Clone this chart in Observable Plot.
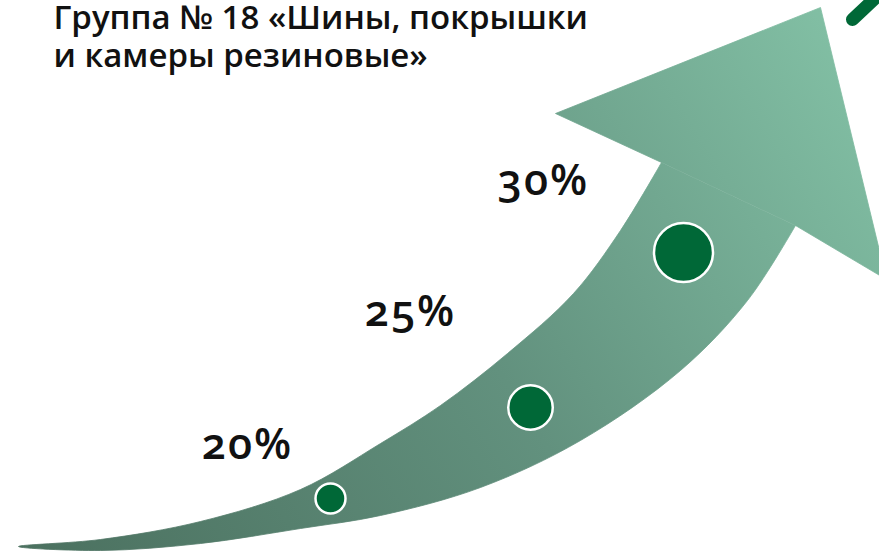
<!DOCTYPE html>
<html><head><meta charset="utf-8">
<script src="https://cdn.jsdelivr.net/npm/d3@7"></script>
<script src="https://cdn.jsdelivr.net/npm/@observablehq/plot@0.6"></script>
<style>
body{margin:0;background:#fff;overflow:hidden}
#chart svg{display:block}
.pct text{font-variant-numeric:oldstyle-nums;font-feature-settings:"onum" 1;letter-spacing:2px}
</style>
</head><body><div id="chart"></div>
<script>
// ---- data ----
const titleLines = ["Группа № 18 «Шины, покрышки", "и камеры резиновые»"];
const values = [20, 25, 30];
const labels = ["20%", "25%", "30%"];

// ---- layout (drawing coordinates of the infographic) ----
const dotX = [330, 530, 683];
const dotY = [498, 407, 252];
const labelX = [247, 410, 543];
const labelY = [445, 312, 181];
const titleX = [53, 53];
const titleY = [28, 66];

const shaftX = [661, 620, 573, 507, 440, 380, 300, 200, 100, 18, 100, 200, 300, 380, 480, 580, 680, 747, 795];
const shaftY = [162, 230, 293, 353, 405, 443, 489, 521, 539, 546, 550, 543, 528, 515, 487, 440, 370, 300, 225];
const headX = [661, 555, 820, 886, 795];
const headY = [162, 113, 7, 279, 225];
const strokeX = [852, 886];
const strokeY = [19, -13];

const shaft = shaftX.map((x, i) => ({x, y: shaftY[i]}));
const head = headX.map((x, i) => ({x, y: headY[i]}));
const accent = strokeX.map((x, i) => ({x, y: strokeY[i]}));
const stages = values.map((v, i) => ({value: v, label: labels[i], x: dotX[i], y: dotY[i], lx: labelX[i], ly: labelY[i]}));
const title = titleLines.map((t, i) => ({t, x: titleX[i], y: titleY[i]}));

const chart = Plot.plot({
  width: 879,
  height: 551,
  margin: 0,
  style: {background: "white", overflow: "hidden"},
  x: {domain: [0, 879], range: [0, 879], axis: null},
  y: {domain: [0, 551], range: [0, 551], axis: null},
  r: {type: "linear", domain: [20, 30], range: [15, 29.5]},
  marks: [
    Plot.line(shaft, {x: "x", y: "y", curve: "catmull-rom", fill: "url(#arrowGrad)", stroke: "url(#arrowGrad)", strokeWidth: 0.8, clip: true}),
    Plot.line(head, {x: "x", y: "y", curve: "linear-closed", fill: "url(#arrowGrad)", stroke: "url(#arrowGrad)", strokeWidth: 0.8, clip: true}),
    Plot.line(accent, {x: "x", y: "y", stroke: "#006837", strokeWidth: 13, strokeLinecap: "round", clip: true}),
    Plot.dot(stages, {x: "x", y: "y", r: "value", fill: "#006837", stroke: "white", strokeWidth: 2.5}),
    Plot.text(stages, {x: "lx", y: "ly", text: "label", fontSize: 43, fontWeight: 600, fontFamily: "Open Sans", fill: "#111", textAnchor: "middle", className: "pct"}),
    Plot.text(title, {x: "x", y: "y", text: "t", fontSize: 33, fontWeight: 600, fontFamily: "Open Sans", fill: "#111", textAnchor: "start", lineAnchor: "bottom"})
  ]
});

const defs = d3.select(chart).insert("defs", ":first-child");
const g = defs.append("linearGradient")
  .attr("id", "arrowGrad")
  .attr("gradientUnits", "userSpaceOnUse")
  .attr("x1", 0).attr("y1", 551).attr("x2", 879).attr("y2", 0);
g.append("stop").attr("offset", "0").attr("stop-color", "#4a6f5e");
g.append("stop").attr("offset", "0.5").attr("stop-color", "#62917e");
g.append("stop").attr("offset", "1").attr("stop-color", "#85c4a8");

document.getElementById("chart").append(chart);
</script>
</body></html>
